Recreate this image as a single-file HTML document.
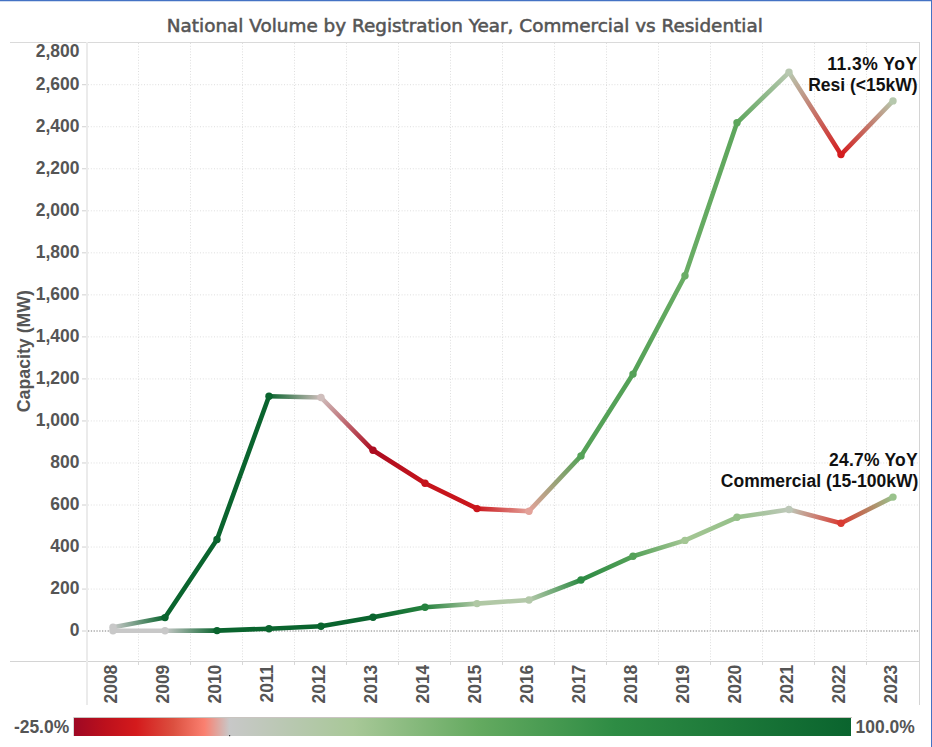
<!DOCTYPE html>
<html><head><meta charset="utf-8"><title>National Volume by Registration Year</title>
<style>
html,body{margin:0;padding:0;background:#fff;width:932px;height:747px;overflow:hidden}
svg{display:block}
.title{font-family:"DejaVu Sans",sans-serif;font-size:18.4px;fill:#555;stroke:#555;stroke-width:0.55px}
.ax{font-family:"Liberation Sans",Arial,sans-serif;font-weight:bold;font-size:18.3px;fill:#555}
.ytitle{font-family:"Liberation Sans",Arial,sans-serif;font-weight:bold;font-size:18.3px;fill:#555}
.ann{font-family:"Liberation Sans",Arial,sans-serif;font-weight:bold;font-size:17.5px;fill:#111}
.lg{font-family:"Liberation Sans",Arial,sans-serif;font-weight:bold;font-size:18.3px;fill:#555}
</style></head>
<body>
<svg width="932" height="747" viewBox="0 0 932 747">
<defs>
<linearGradient id="g0" gradientUnits="userSpaceOnUse" x1="113" y1="627.2" x2="165" y2="617.6"><stop offset="0" stop-color="#c8c8c8"/><stop offset="1" stop-color="#0a642e"/></linearGradient>
<linearGradient id="g1" gradientUnits="userSpaceOnUse" x1="165" y1="617.6" x2="217" y2="539.5"><stop offset="0" stop-color="#0a642e"/><stop offset="1" stop-color="#0a642e"/></linearGradient>
<linearGradient id="g2" gradientUnits="userSpaceOnUse" x1="217" y1="539.5" x2="269" y2="396.2"><stop offset="0" stop-color="#0a642e"/><stop offset="1" stop-color="#0a642e"/></linearGradient>
<linearGradient id="g3" gradientUnits="userSpaceOnUse" x1="269" y1="396.2" x2="321" y2="397.5"><stop offset="0" stop-color="#0a642e"/><stop offset="1" stop-color="#cfbebc"/></linearGradient>
<linearGradient id="g4" gradientUnits="userSpaceOnUse" x1="321" y1="397.5" x2="373" y2="450.3"><stop offset="0" stop-color="#cfbebc"/><stop offset="1" stop-color="#ac0c20"/></linearGradient>
<linearGradient id="g5" gradientUnits="userSpaceOnUse" x1="373" y1="450.3" x2="425" y2="483.2"><stop offset="0" stop-color="#ac0c20"/><stop offset="1" stop-color="#c5141c"/></linearGradient>
<linearGradient id="g6" gradientUnits="userSpaceOnUse" x1="425" y1="483.2" x2="477" y2="508.6"><stop offset="0" stop-color="#c5141c"/><stop offset="1" stop-color="#ca161c"/></linearGradient>
<linearGradient id="g7" gradientUnits="userSpaceOnUse" x1="477" y1="508.6" x2="529" y2="511.2"><stop offset="0" stop-color="#ca161c"/><stop offset="1" stop-color="#e3a299"/></linearGradient>
<linearGradient id="g8" gradientUnits="userSpaceOnUse" x1="529" y1="511.2" x2="581" y2="455.9"><stop offset="0" stop-color="#e3a299"/><stop offset="1" stop-color="#55a258"/></linearGradient>
<linearGradient id="g9" gradientUnits="userSpaceOnUse" x1="581" y1="455.9" x2="633" y2="374.1"><stop offset="0" stop-color="#55a258"/><stop offset="1" stop-color="#54a157"/></linearGradient>
<linearGradient id="g10" gradientUnits="userSpaceOnUse" x1="633" y1="374.1" x2="685" y2="275.7"><stop offset="0" stop-color="#54a157"/><stop offset="1" stop-color="#6aad65"/></linearGradient>
<linearGradient id="g11" gradientUnits="userSpaceOnUse" x1="685" y1="275.7" x2="737" y2="122.8"><stop offset="0" stop-color="#6aad65"/><stop offset="1" stop-color="#5da65c"/></linearGradient>
<linearGradient id="g12" gradientUnits="userSpaceOnUse" x1="737" y1="122.8" x2="789" y2="72.3"><stop offset="0" stop-color="#5da65c"/><stop offset="1" stop-color="#b8c8b0"/></linearGradient>
<linearGradient id="g13" gradientUnits="userSpaceOnUse" x1="789" y1="72.3" x2="841" y2="154.6"><stop offset="0" stop-color="#b8c8b0"/><stop offset="1" stop-color="#d41c1e"/></linearGradient>
<linearGradient id="g14" gradientUnits="userSpaceOnUse" x1="841" y1="154.6" x2="893" y2="100.9"><stop offset="0" stop-color="#d41c1e"/><stop offset="1" stop-color="#b6c8ad"/></linearGradient>
<linearGradient id="g15" gradientUnits="userSpaceOnUse" x1="113" y1="630.8" x2="165" y2="630.8"><stop offset="0" stop-color="#c8c8c8"/><stop offset="1" stop-color="#c8c8c8"/></linearGradient>
<linearGradient id="g16" gradientUnits="userSpaceOnUse" x1="165" y1="630.8" x2="217" y2="630.6"><stop offset="0" stop-color="#c8c8c8"/><stop offset="1" stop-color="#0a642e"/></linearGradient>
<linearGradient id="g17" gradientUnits="userSpaceOnUse" x1="217" y1="630.6" x2="269" y2="628.7"><stop offset="0" stop-color="#0a642e"/><stop offset="1" stop-color="#0a642e"/></linearGradient>
<linearGradient id="g18" gradientUnits="userSpaceOnUse" x1="269" y1="628.7" x2="321" y2="626.2"><stop offset="0" stop-color="#0a642e"/><stop offset="1" stop-color="#0a642e"/></linearGradient>
<linearGradient id="g19" gradientUnits="userSpaceOnUse" x1="321" y1="626.2" x2="373" y2="617.2"><stop offset="0" stop-color="#0a642e"/><stop offset="1" stop-color="#0a642e"/></linearGradient>
<linearGradient id="g20" gradientUnits="userSpaceOnUse" x1="373" y1="617.2" x2="425" y2="607.2"><stop offset="0" stop-color="#0a642e"/><stop offset="1" stop-color="#25823e"/></linearGradient>
<linearGradient id="g21" gradientUnits="userSpaceOnUse" x1="425" y1="607.2" x2="477" y2="603.6"><stop offset="0" stop-color="#25823e"/><stop offset="1" stop-color="#b0c8a4"/></linearGradient>
<linearGradient id="g22" gradientUnits="userSpaceOnUse" x1="477" y1="603.6" x2="529" y2="600.0"><stop offset="0" stop-color="#b0c8a4"/><stop offset="1" stop-color="#b3c8a9"/></linearGradient>
<linearGradient id="g23" gradientUnits="userSpaceOnUse" x1="529" y1="600.0" x2="581" y2="580.0"><stop offset="0" stop-color="#b3c8a9"/><stop offset="1" stop-color="#2c8a43"/></linearGradient>
<linearGradient id="g24" gradientUnits="userSpaceOnUse" x1="581" y1="580.0" x2="633" y2="556.3"><stop offset="0" stop-color="#2c8a43"/><stop offset="1" stop-color="#54a158"/></linearGradient>
<linearGradient id="g25" gradientUnits="userSpaceOnUse" x1="633" y1="556.3" x2="685" y2="540.4"><stop offset="0" stop-color="#54a158"/><stop offset="1" stop-color="#a4c694"/></linearGradient>
<linearGradient id="g26" gradientUnits="userSpaceOnUse" x1="685" y1="540.4" x2="737" y2="517.3"><stop offset="0" stop-color="#a4c694"/><stop offset="1" stop-color="#95c089"/></linearGradient>
<linearGradient id="g27" gradientUnits="userSpaceOnUse" x1="737" y1="517.3" x2="789" y2="509.5"><stop offset="0" stop-color="#95c089"/><stop offset="1" stop-color="#bdc8b8"/></linearGradient>
<linearGradient id="g28" gradientUnits="userSpaceOnUse" x1="789" y1="509.5" x2="841" y2="523.3"><stop offset="0" stop-color="#bdc8b8"/><stop offset="1" stop-color="#d93b32"/></linearGradient>
<linearGradient id="g29" gradientUnits="userSpaceOnUse" x1="841" y1="523.3" x2="893" y2="497.1"><stop offset="0" stop-color="#d93b32"/><stop offset="1" stop-color="#99c28c"/></linearGradient>
<linearGradient id="leg" x1="0" y1="0" x2="1" y2="0">
<stop offset="0.0000" stop-color="#9e0824"/><stop offset="0.0400" stop-color="#bc101c"/><stop offset="0.0800" stop-color="#d41a1c"/><stop offset="0.1280" stop-color="#dc5040"/><stop offset="0.1680" stop-color="#fa8070"/><stop offset="0.2000" stop-color="#c8c8c8"/><stop offset="0.3600" stop-color="#a8c898"/><stop offset="0.5200" stop-color="#64aa60"/><stop offset="0.6960" stop-color="#2e8c44"/><stop offset="1.0000" stop-color="#0a642e"/>
</linearGradient>
</defs>
<rect x="0" y="0" width="932" height="747" fill="#fff"/>
<rect x="0" y="0" width="932" height="1" fill="#4472c4"/>
<rect x="0" y="1" width="932" height="1" fill="#4472c4" opacity="0.25"/>
<rect x="931" y="0" width="1" height="747" fill="#4472c4"/>
<text x="464.8" y="32" text-anchor="middle" class="title">National Volume by Registration Year, Commercial vs Residential</text>
<line x1="88" y1="589.07" x2="919" y2="589.07" stroke="#dedede" stroke-width="1" stroke-dasharray="1 1.8"/>
<line x1="82" y1="589.07" x2="87" y2="589.07" stroke="#d0d0d0" stroke-width="1"/>
<line x1="88" y1="547.04" x2="919" y2="547.04" stroke="#dedede" stroke-width="1" stroke-dasharray="1 1.8"/>
<line x1="82" y1="547.04" x2="87" y2="547.04" stroke="#d0d0d0" stroke-width="1"/>
<line x1="88" y1="505.01" x2="919" y2="505.01" stroke="#dedede" stroke-width="1" stroke-dasharray="1 1.8"/>
<line x1="82" y1="505.01" x2="87" y2="505.01" stroke="#d0d0d0" stroke-width="1"/>
<line x1="88" y1="462.98" x2="919" y2="462.98" stroke="#dedede" stroke-width="1" stroke-dasharray="1 1.8"/>
<line x1="82" y1="462.98" x2="87" y2="462.98" stroke="#d0d0d0" stroke-width="1"/>
<line x1="88" y1="420.95" x2="919" y2="420.95" stroke="#dedede" stroke-width="1" stroke-dasharray="1 1.8"/>
<line x1="82" y1="420.95" x2="87" y2="420.95" stroke="#d0d0d0" stroke-width="1"/>
<line x1="88" y1="378.92" x2="919" y2="378.92" stroke="#dedede" stroke-width="1" stroke-dasharray="1 1.8"/>
<line x1="82" y1="378.92" x2="87" y2="378.92" stroke="#d0d0d0" stroke-width="1"/>
<line x1="88" y1="336.89" x2="919" y2="336.89" stroke="#dedede" stroke-width="1" stroke-dasharray="1 1.8"/>
<line x1="82" y1="336.89" x2="87" y2="336.89" stroke="#d0d0d0" stroke-width="1"/>
<line x1="88" y1="294.86" x2="919" y2="294.86" stroke="#dedede" stroke-width="1" stroke-dasharray="1 1.8"/>
<line x1="82" y1="294.86" x2="87" y2="294.86" stroke="#d0d0d0" stroke-width="1"/>
<line x1="88" y1="252.83" x2="919" y2="252.83" stroke="#dedede" stroke-width="1" stroke-dasharray="1 1.8"/>
<line x1="82" y1="252.83" x2="87" y2="252.83" stroke="#d0d0d0" stroke-width="1"/>
<line x1="88" y1="210.8" x2="919" y2="210.8" stroke="#dedede" stroke-width="1" stroke-dasharray="1 1.8"/>
<line x1="82" y1="210.8" x2="87" y2="210.8" stroke="#d0d0d0" stroke-width="1"/>
<line x1="88" y1="168.77" x2="919" y2="168.77" stroke="#dedede" stroke-width="1" stroke-dasharray="1 1.8"/>
<line x1="82" y1="168.77" x2="87" y2="168.77" stroke="#d0d0d0" stroke-width="1"/>
<line x1="88" y1="126.74" x2="919" y2="126.74" stroke="#dedede" stroke-width="1" stroke-dasharray="1 1.8"/>
<line x1="82" y1="126.74" x2="87" y2="126.74" stroke="#d0d0d0" stroke-width="1"/>
<line x1="88" y1="84.71" x2="919" y2="84.71" stroke="#dedede" stroke-width="1" stroke-dasharray="1 1.8"/>
<line x1="82" y1="84.71" x2="87" y2="84.71" stroke="#d0d0d0" stroke-width="1"/>
<line x1="88" y1="631" x2="919" y2="631" stroke="#a8a8a8" stroke-width="1.3" stroke-dasharray="1.3 1.5"/>
<line x1="82" y1="631" x2="87" y2="631" stroke="#d0d0d0" stroke-width="1"/>
<line x1="138.5" y1="43" x2="138.5" y2="661" stroke="#dedede" stroke-width="1" stroke-dasharray="1 1.8"/>
<line x1="138.5" y1="661" x2="138.5" y2="665" stroke="#d8d8d8" stroke-width="1"/>
<line x1="190.5" y1="43" x2="190.5" y2="661" stroke="#dedede" stroke-width="1" stroke-dasharray="1 1.8"/>
<line x1="190.5" y1="661" x2="190.5" y2="665" stroke="#d8d8d8" stroke-width="1"/>
<line x1="242.5" y1="43" x2="242.5" y2="661" stroke="#dedede" stroke-width="1" stroke-dasharray="1 1.8"/>
<line x1="242.5" y1="661" x2="242.5" y2="665" stroke="#d8d8d8" stroke-width="1"/>
<line x1="294.5" y1="43" x2="294.5" y2="661" stroke="#dedede" stroke-width="1" stroke-dasharray="1 1.8"/>
<line x1="294.5" y1="661" x2="294.5" y2="665" stroke="#d8d8d8" stroke-width="1"/>
<line x1="346.5" y1="43" x2="346.5" y2="661" stroke="#dedede" stroke-width="1" stroke-dasharray="1 1.8"/>
<line x1="346.5" y1="661" x2="346.5" y2="665" stroke="#d8d8d8" stroke-width="1"/>
<line x1="398.5" y1="43" x2="398.5" y2="661" stroke="#dedede" stroke-width="1" stroke-dasharray="1 1.8"/>
<line x1="398.5" y1="661" x2="398.5" y2="665" stroke="#d8d8d8" stroke-width="1"/>
<line x1="450.5" y1="43" x2="450.5" y2="661" stroke="#dedede" stroke-width="1" stroke-dasharray="1 1.8"/>
<line x1="450.5" y1="661" x2="450.5" y2="665" stroke="#d8d8d8" stroke-width="1"/>
<line x1="502.5" y1="43" x2="502.5" y2="661" stroke="#dedede" stroke-width="1" stroke-dasharray="1 1.8"/>
<line x1="502.5" y1="661" x2="502.5" y2="665" stroke="#d8d8d8" stroke-width="1"/>
<line x1="554.5" y1="43" x2="554.5" y2="661" stroke="#dedede" stroke-width="1" stroke-dasharray="1 1.8"/>
<line x1="554.5" y1="661" x2="554.5" y2="665" stroke="#d8d8d8" stroke-width="1"/>
<line x1="606.5" y1="43" x2="606.5" y2="661" stroke="#dedede" stroke-width="1" stroke-dasharray="1 1.8"/>
<line x1="606.5" y1="661" x2="606.5" y2="665" stroke="#d8d8d8" stroke-width="1"/>
<line x1="658.5" y1="43" x2="658.5" y2="661" stroke="#dedede" stroke-width="1" stroke-dasharray="1 1.8"/>
<line x1="658.5" y1="661" x2="658.5" y2="665" stroke="#d8d8d8" stroke-width="1"/>
<line x1="710.5" y1="43" x2="710.5" y2="661" stroke="#dedede" stroke-width="1" stroke-dasharray="1 1.8"/>
<line x1="710.5" y1="661" x2="710.5" y2="665" stroke="#d8d8d8" stroke-width="1"/>
<line x1="762.5" y1="43" x2="762.5" y2="661" stroke="#dedede" stroke-width="1" stroke-dasharray="1 1.8"/>
<line x1="762.5" y1="661" x2="762.5" y2="665" stroke="#d8d8d8" stroke-width="1"/>
<line x1="814.5" y1="43" x2="814.5" y2="661" stroke="#dedede" stroke-width="1" stroke-dasharray="1 1.8"/>
<line x1="814.5" y1="661" x2="814.5" y2="665" stroke="#d8d8d8" stroke-width="1"/>
<line x1="866.5" y1="43" x2="866.5" y2="661" stroke="#dedede" stroke-width="1" stroke-dasharray="1 1.8"/>
<line x1="866.5" y1="661" x2="866.5" y2="665" stroke="#d8d8d8" stroke-width="1"/>
<line x1="10" y1="42.5" x2="919" y2="42.5" stroke="#dadada" stroke-width="1"/>
<line x1="10" y1="661.5" x2="919" y2="661.5" stroke="#d4d4d4" stroke-width="1"/>
<rect x="86" y="42" width="2" height="663" fill="#ebebeb"/>
<line x1="919.5" y1="42" x2="919.5" y2="705" stroke="#d4d4d4" stroke-width="1"/>
<text transform="translate(79.5,636.40) scale(0.955,1)" text-anchor="end" class="ax">0</text>
<text transform="translate(79.5,594.37) scale(0.955,1)" text-anchor="end" class="ax">200</text>
<text transform="translate(79.5,552.34) scale(0.955,1)" text-anchor="end" class="ax">400</text>
<text transform="translate(79.5,510.31) scale(0.955,1)" text-anchor="end" class="ax">600</text>
<text transform="translate(79.5,468.28) scale(0.955,1)" text-anchor="end" class="ax">800</text>
<text transform="translate(79.5,426.25) scale(0.955,1)" text-anchor="end" class="ax">1,000</text>
<text transform="translate(79.5,384.22) scale(0.955,1)" text-anchor="end" class="ax">1,200</text>
<text transform="translate(79.5,342.19) scale(0.955,1)" text-anchor="end" class="ax">1,400</text>
<text transform="translate(79.5,300.16) scale(0.955,1)" text-anchor="end" class="ax">1,600</text>
<text transform="translate(79.5,258.13) scale(0.955,1)" text-anchor="end" class="ax">1,800</text>
<text transform="translate(79.5,216.10) scale(0.955,1)" text-anchor="end" class="ax">2,000</text>
<text transform="translate(79.5,174.07) scale(0.955,1)" text-anchor="end" class="ax">2,200</text>
<text transform="translate(79.5,132.04) scale(0.955,1)" text-anchor="end" class="ax">2,400</text>
<text transform="translate(79.5,90.01) scale(0.955,1)" text-anchor="end" class="ax">2,600</text>
<text transform="translate(79.5,57.30) scale(0.955,1)" text-anchor="end" class="ax">2,800</text>
<text transform="translate(116.9,664.7) rotate(-90) scale(0.955,1)" text-anchor="end" class="ax">2008</text>
<text transform="translate(168.9,664.7) rotate(-90) scale(0.955,1)" text-anchor="end" class="ax">2009</text>
<text transform="translate(220.9,664.7) rotate(-90) scale(0.955,1)" text-anchor="end" class="ax">2010</text>
<text transform="translate(272.9,664.7) rotate(-90) scale(0.955,1)" text-anchor="end" class="ax">2011</text>
<text transform="translate(324.9,664.7) rotate(-90) scale(0.955,1)" text-anchor="end" class="ax">2012</text>
<text transform="translate(376.9,664.7) rotate(-90) scale(0.955,1)" text-anchor="end" class="ax">2013</text>
<text transform="translate(428.9,664.7) rotate(-90) scale(0.955,1)" text-anchor="end" class="ax">2014</text>
<text transform="translate(480.9,664.7) rotate(-90) scale(0.955,1)" text-anchor="end" class="ax">2015</text>
<text transform="translate(532.9,664.7) rotate(-90) scale(0.955,1)" text-anchor="end" class="ax">2016</text>
<text transform="translate(584.9,664.7) rotate(-90) scale(0.955,1)" text-anchor="end" class="ax">2017</text>
<text transform="translate(636.9,664.7) rotate(-90) scale(0.955,1)" text-anchor="end" class="ax">2018</text>
<text transform="translate(688.9,664.7) rotate(-90) scale(0.955,1)" text-anchor="end" class="ax">2019</text>
<text transform="translate(740.9,664.7) rotate(-90) scale(0.955,1)" text-anchor="end" class="ax">2020</text>
<text transform="translate(792.9,664.7) rotate(-90) scale(0.955,1)" text-anchor="end" class="ax">2021</text>
<text transform="translate(844.9,664.7) rotate(-90) scale(0.955,1)" text-anchor="end" class="ax">2022</text>
<text transform="translate(896.9,664.7) rotate(-90) scale(0.955,1)" text-anchor="end" class="ax">2023</text>
<text transform="translate(29.8,351.1) rotate(-90) scale(0.97,1)" text-anchor="middle" class="ytitle">Capacity (MW)</text>
<line x1="113" y1="627.2" x2="165" y2="617.6" stroke="url(#g0)" stroke-width="4.6" stroke-linecap="round"/>
<line x1="165" y1="617.6" x2="217" y2="539.5" stroke="url(#g1)" stroke-width="4.6" stroke-linecap="round"/>
<line x1="217" y1="539.5" x2="269" y2="396.2" stroke="url(#g2)" stroke-width="4.6" stroke-linecap="round"/>
<line x1="269" y1="396.2" x2="321" y2="397.5" stroke="url(#g3)" stroke-width="4.6" stroke-linecap="round"/>
<line x1="321" y1="397.5" x2="373" y2="450.3" stroke="url(#g4)" stroke-width="4.6" stroke-linecap="round"/>
<line x1="373" y1="450.3" x2="425" y2="483.2" stroke="url(#g5)" stroke-width="4.6" stroke-linecap="round"/>
<line x1="425" y1="483.2" x2="477" y2="508.6" stroke="url(#g6)" stroke-width="4.6" stroke-linecap="round"/>
<line x1="477" y1="508.6" x2="529" y2="511.2" stroke="url(#g7)" stroke-width="4.6" stroke-linecap="round"/>
<line x1="529" y1="511.2" x2="581" y2="455.9" stroke="url(#g8)" stroke-width="4.6" stroke-linecap="round"/>
<line x1="581" y1="455.9" x2="633" y2="374.1" stroke="url(#g9)" stroke-width="4.6" stroke-linecap="round"/>
<line x1="633" y1="374.1" x2="685" y2="275.7" stroke="url(#g10)" stroke-width="4.6" stroke-linecap="round"/>
<line x1="685" y1="275.7" x2="737" y2="122.8" stroke="url(#g11)" stroke-width="4.6" stroke-linecap="round"/>
<line x1="737" y1="122.8" x2="789" y2="72.3" stroke="url(#g12)" stroke-width="4.6" stroke-linecap="round"/>
<line x1="789" y1="72.3" x2="841" y2="154.6" stroke="url(#g13)" stroke-width="4.6" stroke-linecap="round"/>
<line x1="841" y1="154.6" x2="893" y2="100.9" stroke="url(#g14)" stroke-width="4.6" stroke-linecap="round"/>
<circle cx="113" cy="627.2" r="3.7" fill="#c8c8c8"/>
<circle cx="165" cy="617.6" r="3.7" fill="#0a642e"/>
<circle cx="217" cy="539.5" r="3.7" fill="#0a642e"/>
<circle cx="269" cy="396.2" r="3.7" fill="#0a642e"/>
<circle cx="321" cy="397.5" r="3.7" fill="#cfbebc"/>
<circle cx="373" cy="450.3" r="3.7" fill="#ac0c20"/>
<circle cx="425" cy="483.2" r="3.7" fill="#c5141c"/>
<circle cx="477" cy="508.6" r="3.7" fill="#ca161c"/>
<circle cx="529" cy="511.2" r="3.7" fill="#e3a299"/>
<circle cx="581" cy="455.9" r="3.7" fill="#55a258"/>
<circle cx="633" cy="374.1" r="3.7" fill="#54a157"/>
<circle cx="685" cy="275.7" r="3.7" fill="#6aad65"/>
<circle cx="737" cy="122.8" r="3.7" fill="#5da65c"/>
<circle cx="789" cy="72.3" r="3.7" fill="#b8c8b0"/>
<circle cx="841" cy="154.6" r="3.7" fill="#d41c1e"/>
<circle cx="893" cy="100.9" r="3.7" fill="#b6c8ad"/>
<line x1="113" y1="630.8" x2="165" y2="630.8" stroke="url(#g15)" stroke-width="4.6" stroke-linecap="round"/>
<line x1="165" y1="630.8" x2="217" y2="630.6" stroke="url(#g16)" stroke-width="4.6" stroke-linecap="round"/>
<line x1="217" y1="630.6" x2="269" y2="628.7" stroke="url(#g17)" stroke-width="4.6" stroke-linecap="round"/>
<line x1="269" y1="628.7" x2="321" y2="626.2" stroke="url(#g18)" stroke-width="4.6" stroke-linecap="round"/>
<line x1="321" y1="626.2" x2="373" y2="617.2" stroke="url(#g19)" stroke-width="4.6" stroke-linecap="round"/>
<line x1="373" y1="617.2" x2="425" y2="607.2" stroke="url(#g20)" stroke-width="4.6" stroke-linecap="round"/>
<line x1="425" y1="607.2" x2="477" y2="603.6" stroke="url(#g21)" stroke-width="4.6" stroke-linecap="round"/>
<line x1="477" y1="603.6" x2="529" y2="600.0" stroke="url(#g22)" stroke-width="4.6" stroke-linecap="round"/>
<line x1="529" y1="600.0" x2="581" y2="580.0" stroke="url(#g23)" stroke-width="4.6" stroke-linecap="round"/>
<line x1="581" y1="580.0" x2="633" y2="556.3" stroke="url(#g24)" stroke-width="4.6" stroke-linecap="round"/>
<line x1="633" y1="556.3" x2="685" y2="540.4" stroke="url(#g25)" stroke-width="4.6" stroke-linecap="round"/>
<line x1="685" y1="540.4" x2="737" y2="517.3" stroke="url(#g26)" stroke-width="4.6" stroke-linecap="round"/>
<line x1="737" y1="517.3" x2="789" y2="509.5" stroke="url(#g27)" stroke-width="4.6" stroke-linecap="round"/>
<line x1="789" y1="509.5" x2="841" y2="523.3" stroke="url(#g28)" stroke-width="4.6" stroke-linecap="round"/>
<line x1="841" y1="523.3" x2="893" y2="497.1" stroke="url(#g29)" stroke-width="4.6" stroke-linecap="round"/>
<circle cx="113" cy="630.8" r="3.7" fill="#c8c8c8"/>
<circle cx="165" cy="630.8" r="3.7" fill="#c8c8c8"/>
<circle cx="217" cy="630.6" r="3.7" fill="#0a642e"/>
<circle cx="269" cy="628.7" r="3.7" fill="#0a642e"/>
<circle cx="321" cy="626.2" r="3.7" fill="#0a642e"/>
<circle cx="373" cy="617.2" r="3.7" fill="#0a642e"/>
<circle cx="425" cy="607.2" r="3.7" fill="#25823e"/>
<circle cx="477" cy="603.6" r="3.7" fill="#b0c8a4"/>
<circle cx="529" cy="600.0" r="3.7" fill="#b3c8a9"/>
<circle cx="581" cy="580.0" r="3.7" fill="#2c8a43"/>
<circle cx="633" cy="556.3" r="3.7" fill="#54a158"/>
<circle cx="685" cy="540.4" r="3.7" fill="#a4c694"/>
<circle cx="737" cy="517.3" r="3.7" fill="#95c089"/>
<circle cx="789" cy="509.5" r="3.7" fill="#bdc8b8"/>
<circle cx="841" cy="523.3" r="3.7" fill="#d93b32"/>
<circle cx="893" cy="497.1" r="3.7" fill="#99c28c"/>
<text x="917.6" y="69.8" text-anchor="end" class="ann" letter-spacing="0.5">11.3% YoY</text>
<text x="917.6" y="91" text-anchor="end" class="ann">Resi (&lt;15kW)</text>
<text x="917.8" y="465.8" text-anchor="end" class="ann" letter-spacing="0.2">24.7% YoY</text>
<text x="918.3" y="487" text-anchor="end" class="ann">Commercial (15-100kW)</text>
<rect x="73" y="717" width="779" height="1" fill="#c8c4c0"/><rect x="73" y="717" width="1" height="19" fill="#d8d8d8"/><rect x="74" y="718" width="777" height="18" fill="url(#leg)"/>
<rect x="229" y="735" width="1.2" height="1.2" fill="#333"/>
<text transform="translate(69.2,733.2) scale(0.955,1)" text-anchor="end" class="lg">-25.0%</text>
<text transform="translate(855.6,733.2) scale(0.955,1)" class="lg">100.0%</text>
</svg>
</body></html>
